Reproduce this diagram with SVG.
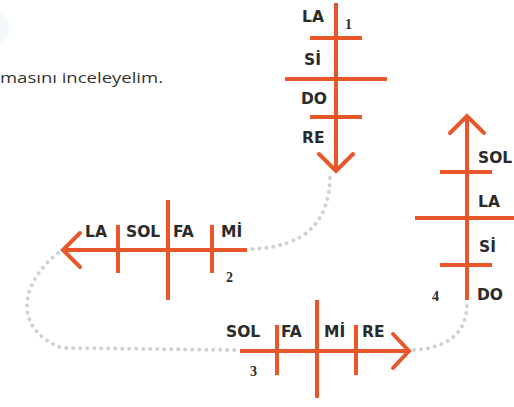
<svg xmlns="http://www.w3.org/2000/svg" width="514" height="407" viewBox="0 0 514 407">
<style>
.ln{stroke:#e8562a;stroke-width:4;fill:none;stroke-linecap:butt}
.hd{stroke:#e8562a;stroke-width:4;fill:none;stroke-linecap:round;stroke-linejoin:miter}
.lb{font-family:"DejaVu Sans","Open Sans",sans-serif;font-weight:700;font-size:15.5px;fill:#2a2a2a}
.nm{font-family:"Liberation Serif","DejaVu Serif",serif;font-weight:700;font-size:14px;fill:#2a2a2a}
.dot{stroke:#d0d0d0;stroke-width:4;fill:none;stroke-linecap:round;stroke-dasharray:0 7}
</style>
<rect width="514" height="407" fill="#ffffff"/>
<circle cx="-6" cy="28" r="16" fill="#f3f8fa"/>
<text x="0" y="83" font-family="'Open Sans','Liberation Sans',sans-serif" font-size="14" fill="#333" textLength="163" lengthAdjust="spacingAndGlyphs">masını inceleyelim.</text>
<g id="connectors">
<path class="dot" d="M330,178 C329,222 305,247 252,249"/>
<path class="dot" d="M58,253 C18,285 14,330 62,348 L236,350"/>
<path class="dot" d="M414,350 C447,348 467,334 467,303"/>
</g>
<g id="arrow1">
<path class="ln" d="M336,3 V170 M310,38 H362 M285,79 H387 M310,117 H362"/>
<polyline class="hd" points="319,154 336,171 353,154"/>
<text class="lb" x="302" y="22">LA</text>
<text class="nm" x="345" y="29">1</text>
<text class="lb" x="304" y="65">Sİ</text>
<text class="lb" x="301" y="104">DO</text>
<text class="lb" x="302" y="143">RE</text>
</g>
<g id="arrow2">
<path class="ln" d="M63,250 H247 M118,225 V273 M168,200 V300 M212,225 V273"/>
<polyline class="hd" points="80,233 63,250 80,267"/>
<text class="lb" x="85" y="237">LA</text>
<text class="lb" x="126" y="237">SOL</text>
<text class="lb" x="173" y="237">FA</text>
<text class="lb" x="221" y="237">Mİ</text>
<text class="nm" x="226" y="282">2</text>
</g>
<g id="arrow3">
<path class="ln" d="M240,351 H408 M277,325 V375 M317,300 V398 M356,325 V375"/>
<polyline class="hd" points="393,334 409,351 393,368"/>
<text class="lb" x="226" y="337">SOL</text>
<text class="lb" x="281" y="337">FA</text>
<text class="lb" x="324" y="337">Mİ</text>
<text class="lb" x="362" y="337">RE</text>
<text class="nm" x="250" y="376">3</text>
</g>
<g id="arrow4">
<path class="ln" d="M467,117 V300 M440,172 H492 M415,218 H514 M440,265 H492"/>
<polyline class="hd" points="450,133 467,116 484,133"/>
<text class="lb" x="478" y="163">SOL</text>
<text class="lb" x="478" y="207">LA</text>
<text class="lb" x="479" y="252">Sİ</text>
<text class="lb" x="477" y="300">DO</text>
<text class="nm" x="432" y="301">4</text>
</g>
</svg>
